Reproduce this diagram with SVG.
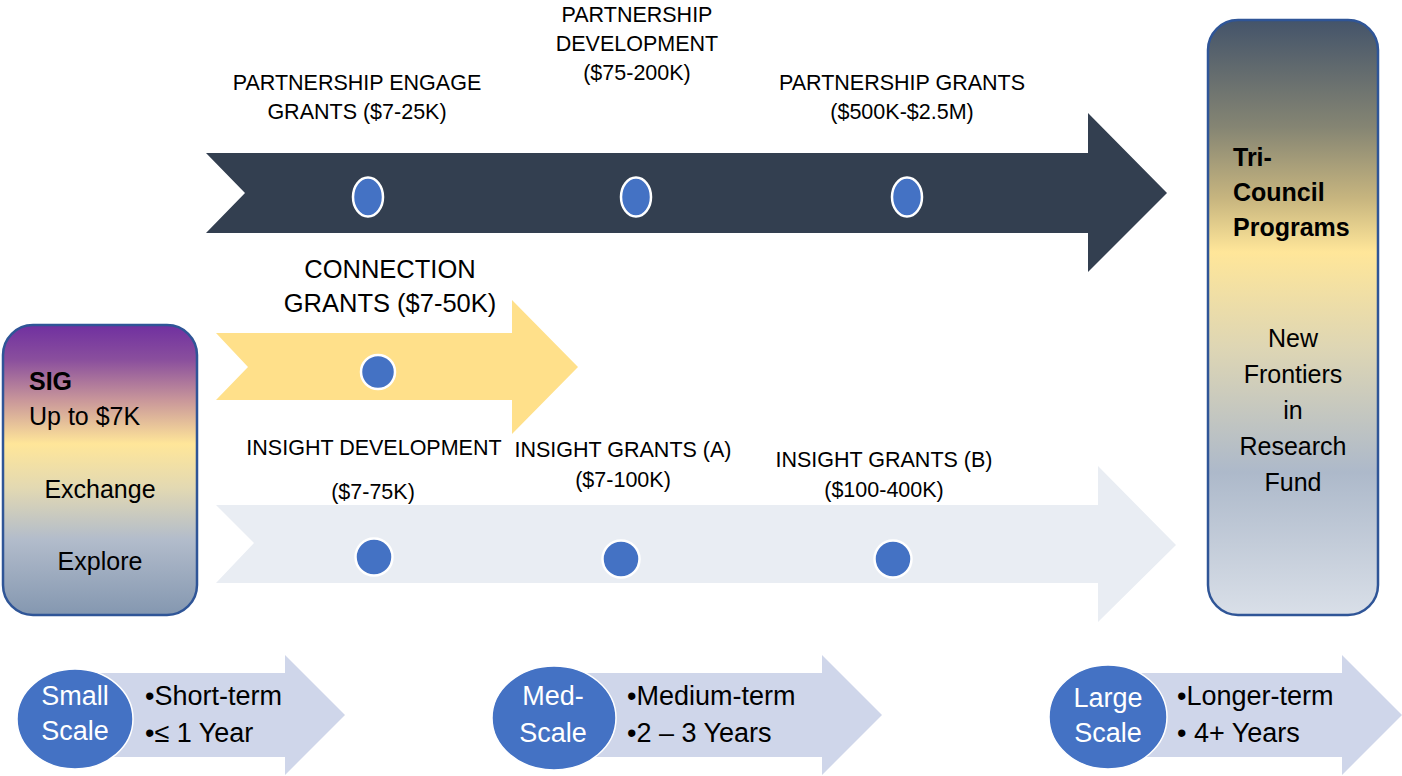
<svg xmlns="http://www.w3.org/2000/svg" width="1402" height="776" viewBox="0 0 1402 776">
<defs>
<linearGradient id="gSig" x1="0" y1="0" x2="0" y2="1">
<stop offset="0" stop-color="#7030A0"/>
<stop offset="0.12" stop-color="#8A4F9D"/>
<stop offset="0.26" stop-color="#C9979A"/>
<stop offset="0.41" stop-color="#FFE699"/>
<stop offset="0.56" stop-color="#E3D9B2"/>
<stop offset="0.74" stop-color="#B2BCCB"/>
<stop offset="1" stop-color="#8497B0"/>
</linearGradient>
<linearGradient id="gTri" x1="0" y1="0" x2="0" y2="1">
<stop offset="0" stop-color="#44546A"/>
<stop offset="0.18" stop-color="#858573"/>
<stop offset="0.3" stop-color="#C7B57F"/>
<stop offset="0.39" stop-color="#FFE699"/>
<stop offset="0.55" stop-color="#DED6B4"/>
<stop offset="0.76" stop-color="#ADB9CA"/>
<stop offset="1" stop-color="#D9DFE8"/>
</linearGradient>
<style>
text{font-family:"Liberation Sans",Arial,sans-serif;fill:#000}
.lbl{font-size:21.5px;text-anchor:middle}
.big{font-size:25.5px;text-anchor:middle}
.box{font-size:25px}
.mid{text-anchor:middle}
.bold{font-weight:bold}
.dot{fill:#4472C4;stroke:#FFFFFF;stroke-width:2.5}
.scale{fill:#4472C4;stroke:#FFFFFF;stroke-width:1.5}
.sc{font-size:27px;fill:#FFFFFF;text-anchor:middle}
.bul{font-size:27px}
.barrow{fill:#CFD6EA}
.frame{stroke:#2F5597;stroke-width:2.5}
</style>
</defs>
<rect width="1402" height="776" fill="#FFFFFF"/>

<g id="partnership-arrow">
<polygon points="206,153 1088,153 1088,113 1167,193 1088,272 1088,233 206,233 245,193" fill="#333F50"/>
<ellipse class="dot" cx="368" cy="197" rx="15" ry="19.5"/>
<ellipse class="dot" cx="636" cy="197" rx="15" ry="19.5"/>
<ellipse class="dot" cx="907" cy="197" rx="15" ry="19.5"/>
</g>

<g id="partnership-labels">
<text class="lbl" x="357" y="90">PARTNERSHIP ENGAGE</text>
<text class="lbl" x="357" y="119">GRANTS ($7-25K)</text>
<text class="lbl" x="637" y="22">PARTNERSHIP</text>
<text class="lbl" x="637" y="51">DEVELOPMENT</text>
<text class="lbl" x="637" y="80">($75-200K)</text>
<text class="lbl" x="902" y="90">PARTNERSHIP GRANTS</text>
<text class="lbl" x="902" y="119">($500K-$2.5M)</text>
</g>

<g id="connection-arrow">
<polygon points="216,333 512,333 512,300 578,367 512,434 512,400 216,400 248,367" fill="#FFE08A"/>
<circle class="dot" cx="378" cy="372" r="17"/>
<text class="big" x="390" y="278">CONNECTION</text>
<text class="big" x="390" y="312">GRANTS ($7-50K)</text>
</g>

<g id="insight-arrow">
<polygon points="216,505 1098,505 1098,466 1176,545 1098,622 1098,583 216,583 254,543" fill="#E9EDF3"/>
<circle class="dot" cx="374" cy="557" r="18.5"/>
<circle class="dot" cx="621" cy="559" r="18.5"/>
<circle class="dot" cx="893" cy="559" r="18.5"/>
</g>

<g id="insight-labels">
<text class="lbl" x="374" y="455">INSIGHT DEVELOPMENT</text>
<text class="lbl" x="373" y="499">($7-75K)</text>
<text class="lbl" x="623" y="457">INSIGHT GRANTS (A)</text>
<text class="lbl" x="623" y="487">($7-100K)</text>
<text class="lbl" x="884" y="467">INSIGHT GRANTS (B)</text>
<text class="lbl" x="884" y="497">($100-400K)</text>
</g>

<g id="sig-box">
<rect class="frame" x="3" y="325" width="194" height="290" rx="30" ry="30" fill="url(#gSig)"/>
<text class="box bold" x="29" y="390">SIG</text>
<text class="box" x="29" y="425">Up to $7K</text>
<text class="box mid" x="100" y="498">Exchange</text>
<text class="box mid" x="100" y="570">Explore</text>
</g>

<g id="tri-council-box">
<rect class="frame" x="1208" y="20" width="170" height="595" rx="30" ry="30" fill="url(#gTri)"/>
<text class="box bold" x="1233" y="166">Tri-</text>
<text class="box bold" x="1233" y="201">Council</text>
<text class="box bold" x="1233" y="236">Programs</text>
<text class="box mid" x="1293" y="347">New</text>
<text class="box mid" x="1293" y="383">Frontiers</text>
<text class="box mid" x="1293" y="419">in</text>
<text class="box mid" x="1293" y="455">Research</text>
<text class="box mid" x="1293" y="491">Fund</text>
</g>

<g id="small-scale">
<polygon class="barrow" points="100,673 285,673 285,655 345,715 285,775 285,757 100,757"/>
<ellipse class="scale" cx="75" cy="719" rx="58" ry="50"/>
<text class="sc" x="75" y="705">Small</text>
<text class="sc" x="75" y="740">Scale</text>
<text class="bul" x="145" y="705">•Short-term</text>
<text class="bul" x="145" y="742">•≤ 1 Year</text>
</g>

<g id="med-scale">
<polygon class="barrow" points="580,673 822,673 822,655 882,715 822,775 822,757 580,757"/>
<ellipse class="scale" cx="554" cy="718" rx="62" ry="52"/>
<text class="sc" x="553" y="705">Med-</text>
<text class="sc" x="553" y="742">Scale</text>
<text class="bul" x="627" y="705">•Medium-term</text>
<text class="bul" x="627" y="742">•2 – 3 Years</text>
</g>

<g id="large-scale">
<polygon class="barrow" points="1130,673 1342,673 1342,655 1402,715 1342,775 1342,757 1130,757"/>
<ellipse class="scale" cx="1108" cy="717" rx="59" ry="52"/>
<text class="sc" x="1108" y="707">Large</text>
<text class="sc" x="1108" y="742">Scale</text>
<text class="bul" x="1177" y="705">•Longer-term</text>
<text class="bul" x="1177" y="742">• 4+ Years</text>
</g>
</svg>
